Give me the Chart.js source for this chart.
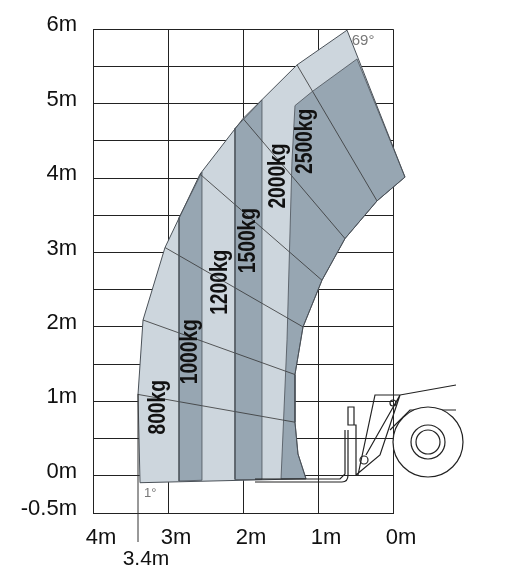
<!DOCTYPE html>
<html><head><meta charset="utf-8">
<script src="https://cdn.jsdelivr.net/npm/chart.js@4/dist/chart.umd.min.js"></script>
<style>html,body{margin:0;background:#fff}#c{display:block}</style>
</head><body>
<div style="width:506px;height:576px"><canvas id="c"></canvas></div>
<script>
// working envelope (metres: reach from front wheel, height)
const outerArc = [[0.613,5.987],[1.28,5.52],[2.0,4.8],[2.573,4.053],[3.04,3.067],[3.333,2.093],[3.4,1.093],[3.373,-0.093]];
const innerArc = [[1.16,-0.04],[1.267,0.293],[1.307,0.72],[1.307,1.36],[1.2,2.0],[0.947,2.627],[0.64,3.187],[0.213,3.693],[-0.16,4.013]];
const band1000 = [[2.853,3.467],[2.853,-0.07],[2.547,-0.06],[2.547,4.08]];
const band1500 = [[2.107,4.667],[2.107,-0.05],[1.747,-0.05],[1.747,5.05]];
const band2500 = [[1.307,4.973],[1.08,5.16],[0.48,5.6],[-0.16,4.013],[0.213,3.693],[0.64,3.187],[0.947,2.627],[1.2,2.0],[1.307,1.36],[1.307,0.72],[1.267,0.293],[1.16,-0.04],[1.493,-0.04],[1.413,1.827],[1.347,4.227],[1.307,4.973]];
const radials = [
  [[1.28,5.52],[0.213,3.693]],
  [[2.0,4.8],[0.64,3.187]],
  [[2.573,4.053],[0.947,2.627]],
  [[3.04,3.067],[1.2,2.0]],
  [[3.333,2.093],[1.307,1.36]],
  [[3.4,1.093],[1.307,0.72]]
];
const loadLabels = ['800kg','1000kg','1200kg','1500kg','2000kg','2500kg'];
const loadPos = [[3.133,0.92],[2.707,1.667],[2.307,2.6],[1.933,3.16],[1.533,4.027],[1.173,4.493]];
const xTicks = [4,3,2,1,0];
const yTicks = [-0.5,0,0.5,1,1.5,2,2.5,3,3.5,4,4.5,5,5.5,6];

const LIGHT = '#cdd6dd', DARK = '#97a6b2', EDGE = '#4a5158';
const pts = a => a.map(p => ({x:p[0], y:p[1]}));
const fan = outerArc.concat(innerArc);
const fills = [[fan, LIGHT], [band1000, DARK], [band1500, DARK], [band2500, DARK]];

const line = (a, col, w) => ({data:pts(a), showLine:true, fill:false, borderColor:col,
  borderWidth:w, pointRadius:0, clip:false, tension:0});
const datasets = [];
fills.slice(1).forEach(f => datasets.push(line(f[0].concat([f[0][0]]), EDGE, 0.8)));
radials.forEach(r => datasets.push(line(r, '#333', 0.8)));
datasets.push(line(fan.concat([fan[0]]), EDGE, 1));

const FONT = '"Liberation Sans Narrow","Liberation Sans",sans-serif';

const shading = {
  id:'shading',
  beforeDatasetsDraw(ch){
    const c = ch.ctx, xs = ch.scales.x, ys = ch.scales.y;
    c.save();
    fills.forEach(([a, col]) => {
      c.beginPath();
      a.forEach((p, i) => {
        const X = xs.getPixelForValue(p[0]), Y = ys.getPixelForValue(p[1]);
        i ? c.lineTo(X, Y) : c.moveTo(X, Y);
      });
      c.closePath(); c.fillStyle = col; c.fill();
    });
    c.restore();
  }
};

const extras = {
  id:'extras',
  afterDatasetsDraw(ch){
    const c = ch.ctx, xs = ch.scales.x, ys = ch.scales.y;
    c.save();
    c.fillStyle = '#111';
    c.font = 'bold 24px ' + FONT;
    c.textAlign = 'center'; c.textBaseline = 'middle';
    loadLabels.forEach((t, i) => {
      c.save();
      c.translate(xs.getPixelForValue(loadPos[i][0]), ys.getPixelForValue(loadPos[i][1]));
      c.rotate(-Math.PI/2);
      c.scale(0.8, 1);
      c.fillText(t, 0, 0);
      c.restore();
    });
    // angle notes
    c.fillStyle = '#777'; c.font = '15px ' + FONT; c.textAlign = 'left';
    c.fillText('69°', xs.getPixelForValue(0.55), ys.getPixelForValue(5.85));
    c.font = '13px ' + FONT;
    c.fillText('1°', xs.getPixelForValue(3.32), ys.getPixelForValue(-0.24));
    // 3.4m marker
    const px = xs.getPixelForValue(3.4);
    c.strokeStyle = '#333'; c.lineWidth = 1;
    c.beginPath(); c.moveTo(px, ys.getPixelForValue(1.1)); c.lineTo(px, 542); c.stroke();
    c.fillStyle = '#111'; c.font = '21px ' + FONT; c.textAlign = 'center';
    c.fillText('3.4m', px + 8, 559);
    // machine sketch (forks, carriage, wheel)
    c.strokeStyle = '#222'; c.lineWidth = 1.2;
    c.beginPath();
    c.moveTo(255,482); c.lineTo(342,482); c.quadraticCurveTo(348,482,348,475); c.lineTo(348,430);
    c.moveTo(255,479); c.lineTo(340,479); c.lineTo(345,474); c.lineTo(345,430);
    c.rect(348,407,6,18);
    c.moveTo(348,425); c.lineTo(356,425); c.lineTo(356,475);
    c.moveTo(356,475); c.lineTo(380,455); c.lineTo(400,395); c.lineTo(375,395); c.lineTo(358,475);
    c.moveTo(400,395); c.lineTo(456,385);
    c.moveTo(390,430); c.lineTo(410,410); c.lineTo(456,410);
    c.moveTo(366,455); c.lineTo(400,395);
    c.stroke();
    c.beginPath(); c.arc(364,460,4,0,Math.PI*2); c.stroke();
    c.beginPath(); c.arc(393,403,3,0,Math.PI*2); c.stroke();
    c.beginPath(); c.arc(428,442,35,0,Math.PI*2); c.fillStyle='#fff'; c.fill(); c.stroke();
    c.beginPath(); c.arc(428,442,17,0,Math.PI*2); c.stroke();
    c.beginPath(); c.arc(428,442,12,0,Math.PI*2); c.stroke();
    c.restore();
  }
};

new Chart(document.getElementById('c'), {
  type:'scatter',
  data:{datasets},
  plugins:[shading, extras],
  options:{
    responsive:true, maintainAspectRatio:false, animation:false,
    layout:{padding:{left:0, top:25, right:113, bottom:0}},
    plugins:{legend:{display:false}, tooltip:{enabled:false}},
    scales:{
      x:{type:'linear', reverse:true, min:0, max:4,
        afterBuildTicks:s => { s.ticks = xTicks.map(v => ({value:v})); },
        afterFit:s => { s.height = 63; },
        grid:{color:'#222', lineWidth:1, drawTicks:false},
        border:{color:'#222'},
        ticks:{padding:12, labelOffset:8, color:'#111', font:{family:FONT, size:22}, callback:v => v + 'm'}},
      y:{type:'linear', min:-0.5, max:6,
        afterBuildTicks:s => { s.ticks = yTicks.map(v => ({value:v})); },
        afterFit:s => { s.width = 93; },
        grid:{color:'#222', lineWidth:1, drawTicks:false},
        border:{color:'#222'},
        ticks:{padding:16, labelOffset:-4, color:'#111', font:{family:FONT, size:22},
          callback:v => (Number.isInteger(v) || v === -0.5) ? v + 'm' : ''}}
    }
  }
});
</script>
</body></html>
